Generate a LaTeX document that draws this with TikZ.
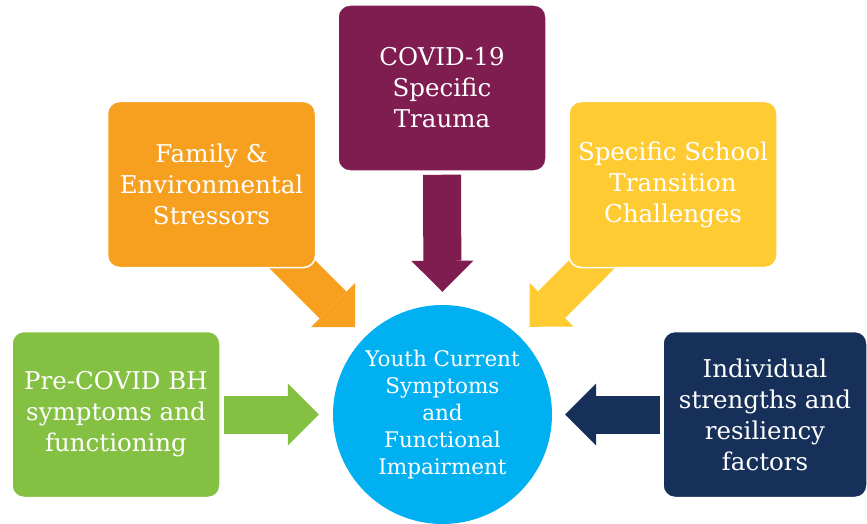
\documentclass[tikz,border=0pt]{standalone}
\usepackage{fontspec}
\setmainfont{DejaVu Serif}
\usetikzlibrary{arrows.meta,backgrounds}
\definecolor{traumacol}{HTML}{7F1D51}
\definecolor{familycol}{HTML}{F7A01F}
\definecolor{schoolcol}{HTML}{FFCB33}
\definecolor{precol}{HTML}{84C142}
\definecolor{indcol}{HTML}{17305A}
\definecolor{youthcol}{HTML}{00B0F0}

\begin{document}
\begin{tikzpicture}[
    x=1pt, y=-1pt,
    factor/.style={
        rectangle, rounded corners=12pt,
        draw=white, line width=1.5pt,
        minimum width=208pt, minimum height=166pt,
        inner sep=0pt, align=center, text=white,
        font=\fontsize{24.5}{31}\selectfont
    },
    centre/.style={
        circle, fill=youthcol,
        minimum size=219pt, inner sep=0pt,
        align=center, text=white,
        font=\fontsize{21.5}{27}\selectfont
    },
    blockarrow/.style={
        line width=38pt,
        -{Triangle[width=62pt,length=31pt,line width=0pt]}
    }
]
\useasboundingbox (0,0) rectangle (867,524);

\node[factor, fill=traumacol] (trauma) at (442,88) {COVID-19\\Specific\\Trauma};
\node[factor, fill=familycol] (family) at (211.5,184.5) {Family \&\\Environmental\\Stressors};
\node[factor, fill=schoolcol] (school) at (673,184.5) {Specific School\\Transition\\Challenges};
\node[factor, fill=precol] (pre) at (116,414.5) {Pre-COVID BH\\symptoms and\\functioning};
\node[factor, fill=indcol, minimum width=204pt] (ind) at (765,414.5) {Individual\\strengths and\\resiliency\\factors};
\node[centre] (youth) at (442.5,414.5) {Youth Current\\Symptoms\\and\\Functional\\Impairment};

\coordinate (familyfoot) at (270,242);
\coordinate (schoolfoot) at (613,243);

\begin{scope}[on background layer]
\fill[white] (0,0) rectangle (867,524);
\draw[blockarrow, traumacol, shorten <=3pt, shorten >=13pt] (trauma.south) -- (youth.north);
\draw[blockarrow, familycol, shorten >=14pt] (familyfoot) -- (youth);
\draw[blockarrow, schoolcol, shorten >=14pt] (schoolfoot) -- (youth);
\draw[blockarrow, precol, shorten <=3pt, shorten >=14pt] (pre.east) -- (youth.west);
\draw[blockarrow, indcol, shorten <=2pt, shorten >=13pt] (ind.west) -- (youth.east);
\end{scope}
\end{tikzpicture}
\end{document}
